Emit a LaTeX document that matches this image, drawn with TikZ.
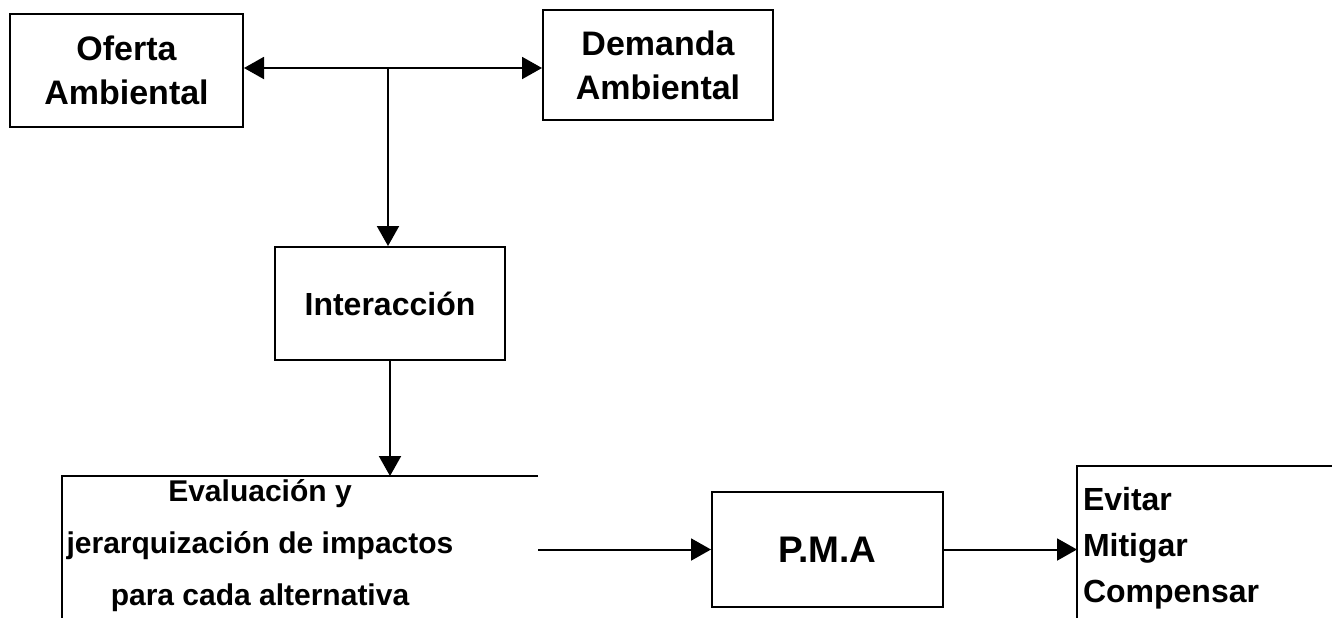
\documentclass[tikz,border=0pt]{standalone}
\usepackage{fontspec}
\setmainfont{Liberation Sans}
\usetikzlibrary{arrows.meta}
\begin{document}
\begin{tikzpicture}[>={Triangle[length=10pt,width=11pt]}, x=0.5pt, y=-0.5pt, line width=1pt]
\useasboundingbox (0,0) rectangle (1332,617);
\clip (0,0) rectangle (1332,617);
\node[draw, minimum width=116.5pt, minimum height=56.5pt, align=center, font=\bfseries\fontsize{17}{22}\selectfont] (A) at (126.5,70.5) {Oferta\\Ambiental};
\node[draw, minimum width=115pt, minimum height=55pt, align=center, font=\bfseries\fontsize{17}{22}\selectfont] (B) at (658,65) {Demanda\\Ambiental};
\node[draw, minimum width=115pt, minimum height=56.5pt, font=\bfseries\fontsize{16}{20}\selectfont] (C) at (390,303.5) {Interacción};

\coordinate (A0) at (388,68);
\draw[->] (A0) -- (A0 -| A.east);
\draw[->] (A0) -- (A0 -| B.west);
\draw[->] (A0) -- (A0 |- C.north);

\node[minimum width=237pt, minimum height=91.5pt] (D) at (300,568.5) {};
\draw (D.north east) -- (D.north west) -- (D.south west);
\node[align=center, font=\bfseries\fontsize{15}{26}\selectfont] (D1) at (260,546) {Evaluación y\\jerarquización de impactos\\para cada alternativa};
\draw[->] (C.south) -- (C.south |- D.north);

\node[draw, minimum width=115.5pt, minimum height=57.5pt, font=\bfseries\fontsize{18.5}{22}\selectfont] (E) at (827.5,549.5) {P.M.A};
\draw[->] (E.west -| D.east) -- (E.west);

\node[minimum width=161pt, minimum height=116.5pt] (F) at (1239,583.5) {};
\draw (F.north east) -- (F.north west) -- (F.south west);
\node[anchor=west, align=left, inner xsep=2pt, font=\bfseries\fontsize{16}{23}\selectfont] (F1) at (1078,548) {Evitar\\Mitigar\\Compensar};
\draw[->] (E.east) -- (E.east -| F.west);

\end{tikzpicture}
\end{document}
